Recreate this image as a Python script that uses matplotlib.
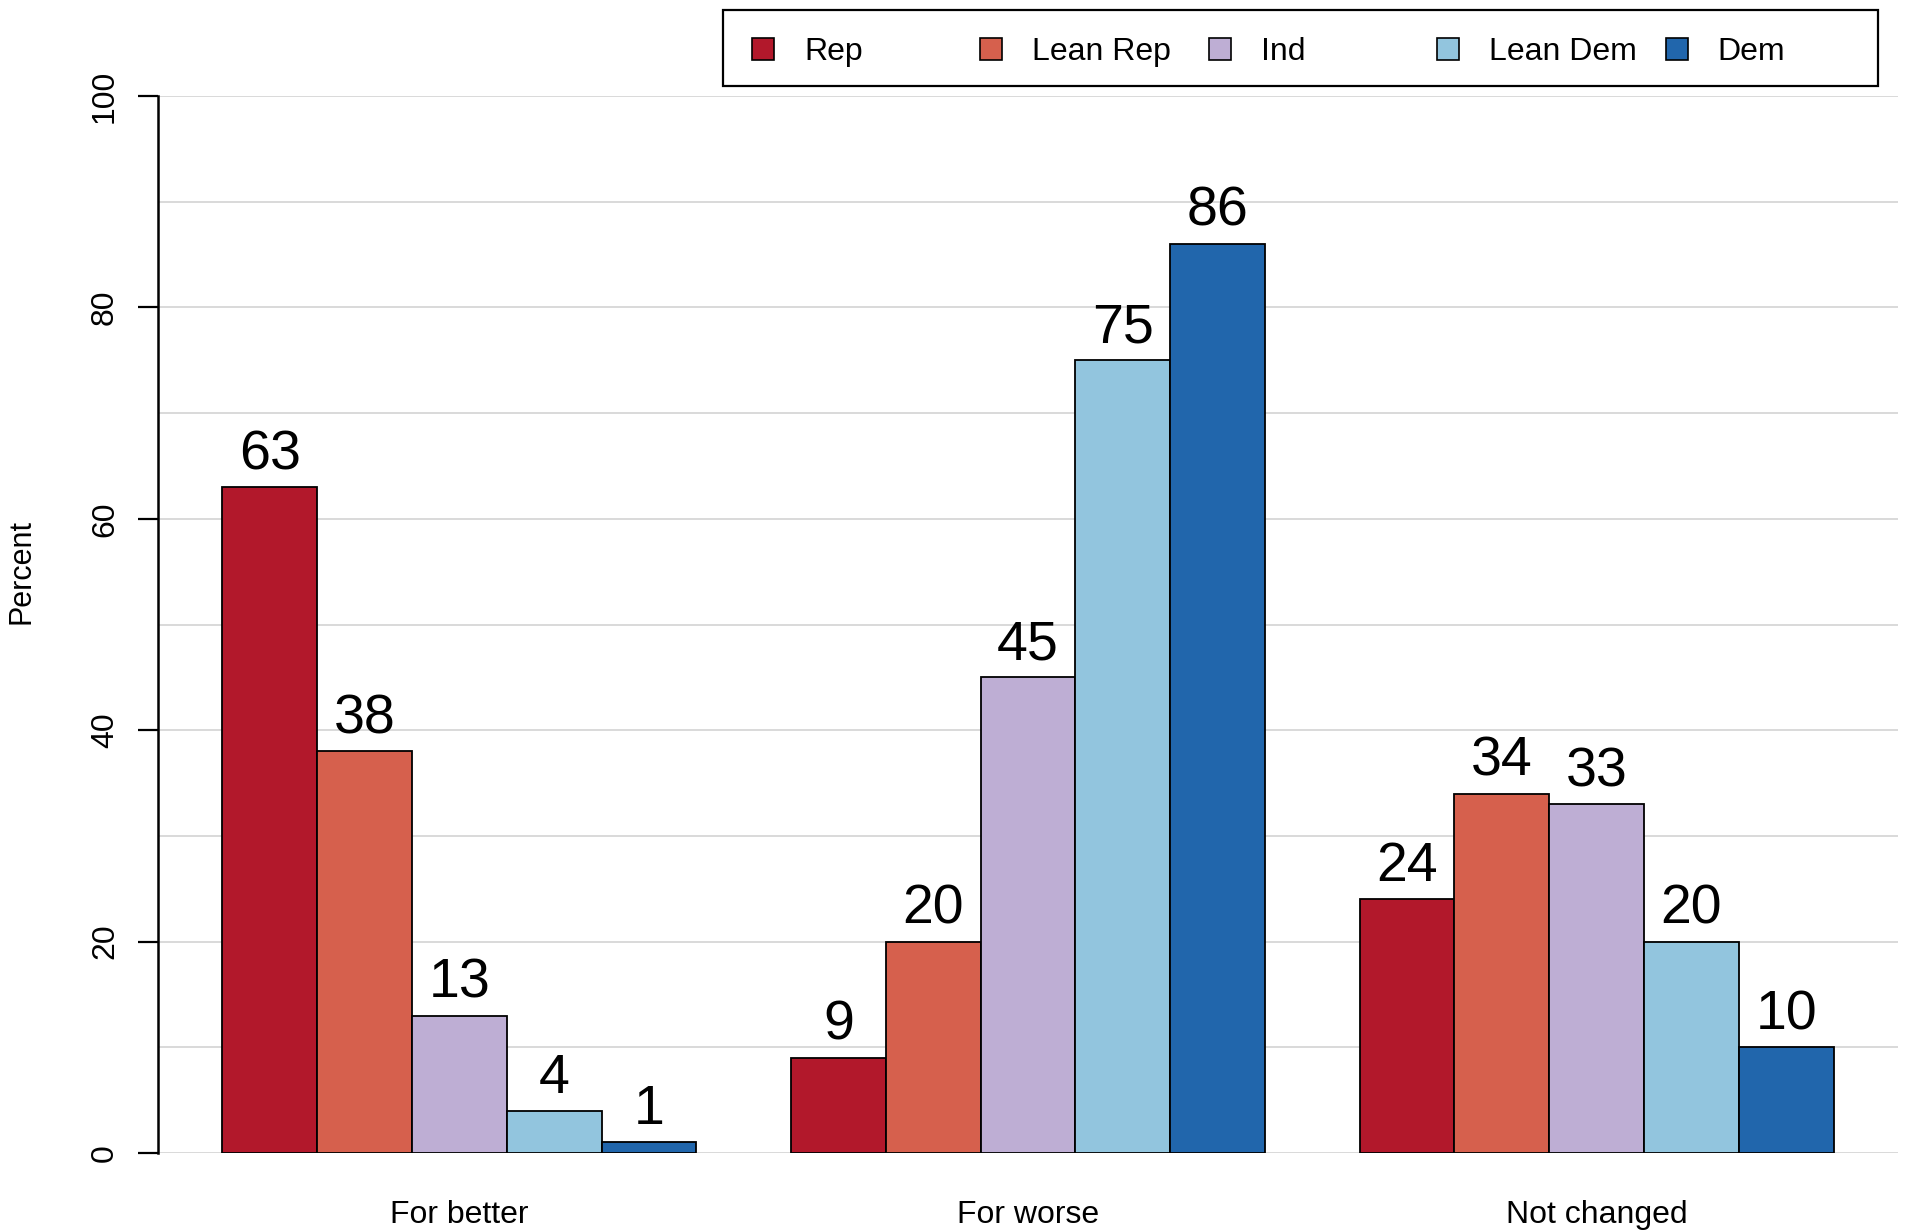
import matplotlib
matplotlib.use("Agg")
import matplotlib.pyplot as plt
from matplotlib.patches import Rectangle

# ---- data ----
categories = ["For better", "For worse", "Not changed"]
series = ["Rep", "Lean Rep", "Ind", "Lean Dem", "Dem"]
rep = [63, 9, 24]
lean_rep = [38, 20, 34]
ind = [13, 45, 33]
lean_dem = [4, 75, 20]
dem = [1, 86, 10]
values = [rep, lean_rep, ind, lean_dem, dem]
colors = ["#B2182B", "#D6604D", "#BEAED4", "#92C5DE", "#2166AC"]

W, H = 1905, 1231
plt.rcParams['font.family'] = ['Liberation Sans', 'DejaVu Sans']
fig = plt.figure(figsize=(W / 100, H / 100), dpi=100)

def fx(px):
    return px / W

def fy(py):
    return 1 - py / H

left, right, top, bottom = 158, 1898, 96, 1153
ax = fig.add_axes([fx(left), fy(bottom), fx(right) - fx(left), fy(top) - fy(bottom)])

ns = len(series)
for s, (vals, col) in enumerate(zip(values, colors)):
    xs = [1 + g * (ns + 1) + s for g in range(len(categories))]
    bars = ax.bar(xs, vals, width=1, align='edge', color=col,
                  edgecolor='black', linewidth=1.3, zorder=3)
    for b, v in zip(bars, vals):
        ax.annotate(str(v), (b.get_x() + b.get_width() / 2, v),
                    xytext=(0, 13), textcoords='offset points',
                    ha='center', va='baseline', fontsize=40, zorder=4)

ax.set_xlim(0.32, 18.68)
ax.set_ylim(0, 100)

centers = [1 + g * (ns + 1) + ns / 2 for g in range(len(categories))]
ax.set_xticks(centers)
ax.set_xticklabels(categories, fontsize=23)
ax.tick_params(axis='x', length=0, pad=33.5)

ax.set_yticks(range(0, 101, 20))
ax.set_yticks(range(10, 100, 20), minor=True)
ax.set_yticklabels([str(v) for v in range(0, 101, 20)], fontsize=23,
                   rotation=90, va='center')
ax.tick_params(axis='y', which='major', length=14.4, width=1.6, pad=13,
               direction='out')
ax.tick_params(axis='y', which='minor', length=0)
ax.grid(axis='y', which='both', color='#d9d9d9', linewidth=1.4, zorder=0)
ax.set_axisbelow(True)

for sp in ['top', 'right', 'bottom']:
    ax.spines[sp].set_visible(False)
ax.spines['left'].set_linewidth(1.8)
ax.spines['left'].set_bounds(0, 100)

fig.text(fx(22), fy(571), "Percent", rotation=90, ha='center', va='center',
         fontsize=22)

# legend (manual, equally spaced like R's horizontal legend)
lx0, ly0, lx1, ly1 = 723, 10, 1878, 86
fig.patches.append(Rectangle((fx(lx0), fy(ly1)), fx(lx1) - fx(lx0), fy(ly0) - fy(ly1),
                             transform=fig.transFigure, facecolor='white',
                             edgecolor='black', linewidth=1.6))
sq = 22
cy = 49
step = 228.4
for i, (name, col) in enumerate(zip(series, colors)):
    x0 = 752 + i * step
    fig.patches.append(Rectangle((fx(x0), fy(cy + sq / 2)), fx(sq), sq / H,
                                 transform=fig.transFigure, facecolor=col,
                                 edgecolor='black', linewidth=1.2))
    fig.text(fx(x0 + 52), fy(cy + 3), name, ha='left', va='center', fontsize=23)

fig.savefig("out.png", dpi=100)
